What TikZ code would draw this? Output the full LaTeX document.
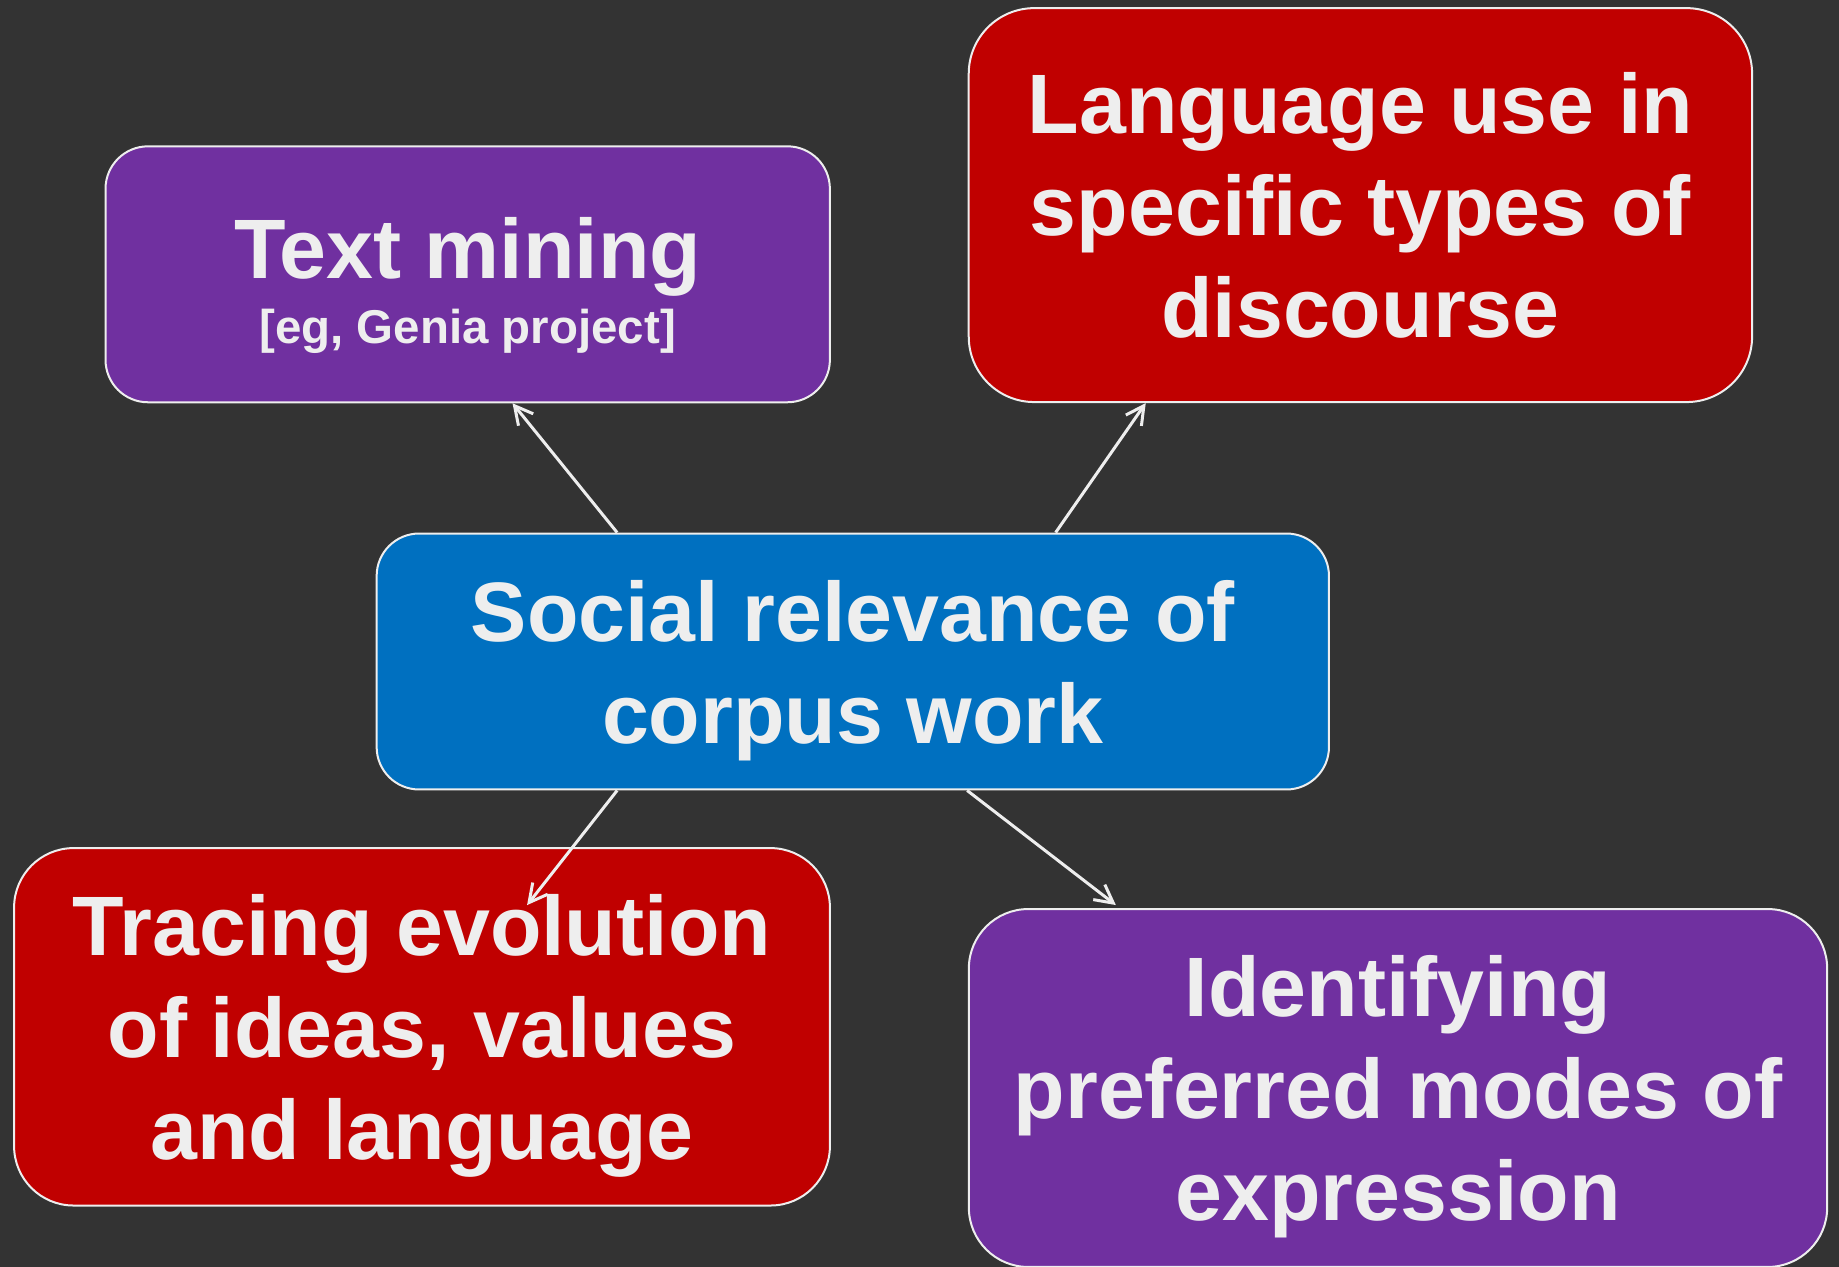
\documentclass[tikz,border=0pt]{standalone}
\usepackage{fontspec}
\setmainfont{Liberation Sans}
\usetikzlibrary{arrows.meta,calc}
\definecolor{dgray}{HTML}{333333}
\definecolor{dpurple}{HTML}{7030A0}
\definecolor{dred}{HTML}{C00000}
\definecolor{dblue}{HTML}{0070C0}
\definecolor{lgray}{HTML}{EEEEEE}

\begin{document}
\begin{tikzpicture}[x=0.02cm, y=-0.02cm,
  box/.style={draw=lgray, line width=0.04cm, text=lgray, align=center, inner sep=0pt, text depth=0pt,
    font=\fontsize{48}{58}\selectfont\bfseries},
  link/.style={draw=lgray, line width=0.06cm, -{Straight Barb[length=0.36cm,width=0.38cm]}}]
\fill[dgray] (0,0) rectangle (1839,1267);
\useasboundingbox (0,0) rectangle (1839,1267);

% the five boxes
\node[box, fill=dpurple, minimum width=14.49cm, minimum height=5.12cm, rounded corners=0.85cm, text height=79pt] (mining) at (467.7,274.3)
  {Text mining\\[-21pt]{\fontsize{27}{37}\selectfont [eg, Genia project]}};
\node[box, fill=dred, minimum width=15.67cm, minimum height=7.88cm, rounded corners=1.31cm] (language) at (1360.4,205.1)
  {Language use in\\specific types of\\discourse};
\node[box, fill=dblue, minimum width=19.05cm, minimum height=5.12cm, rounded corners=0.85cm] (social) at (852.8,661.5)
  {Social relevance of\\corpus work};
\node[box, fill=dred, minimum width=16.32cm, minimum height=7.15cm, rounded corners=1.19cm] (tracing) at (422,1026.8)
  {Tracing evolution\\of ideas, values\\and language};
\node[box, fill=dpurple, minimum width=17.17cm, minimum height=7.16cm, rounded corners=1.19cm] (identifying) at (1398,1088)
  {Identifying\\preferred modes of\\expression};

% arrows out of the centre box
\draw[link] ($(social.north west)+(241.5,0)$) -- ($(mining.south west)+(408,0)$);
\draw[link] ($(social.north west)+(680,0)$) -- ($(language.south west)+(178,0)$);
\draw[link] ($(social.south west)+(241.5,0)$) -- ($(tracing.north west)+(514,58)$);
\draw[link] ($(social.south west)+(591.5,0)$) -- ($(identifying.north west)+(148,-3)$);
\end{tikzpicture}
\end{document}
